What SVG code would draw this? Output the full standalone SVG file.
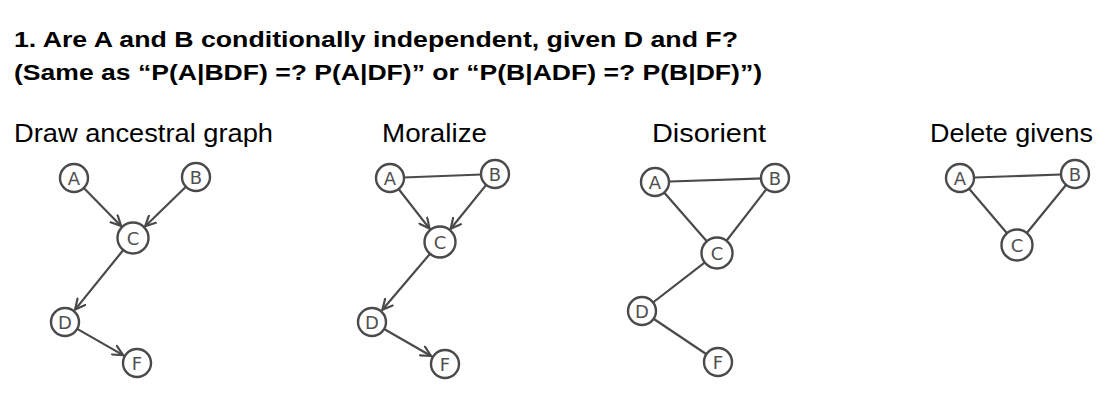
<svg xmlns="http://www.w3.org/2000/svg" width="1112" height="400" viewBox="0 0 1112 400">
<style>
.title{font-family:"Liberation Sans",Arial,sans-serif;font-weight:bold;font-size:22px;fill:#000}
.sub{font-family:"Liberation Sans",Arial,sans-serif;font-size:25px;fill:#000}
.node circle{fill:#fff;stroke:#4a4a4a;stroke-width:2.4}
.node text{font-family:"DejaVu Sans",sans-serif;font-size:18px;fill:#505050;text-anchor:middle;dominant-baseline:central}
.edge{stroke:#4a4a4a;stroke-width:2.2;fill:none;stroke-linecap:round}
.arr{marker-end:url(#ah)}
</style>
<defs>
<marker id="ah" viewBox="0 0 12 12" refX="11" refY="6" markerWidth="12" markerHeight="12" markerUnits="userSpaceOnUse" orient="auto">
<polyline points="1,1 11,6 1,11" fill="none" stroke="#4a4a4a" stroke-width="2.2" stroke-linecap="round" stroke-linejoin="round"/>
</marker>
</defs>
<rect width="1112" height="400" fill="#fff"/>
<text class="title" x="14" y="47" textLength="724" lengthAdjust="spacingAndGlyphs">1. Are A and B conditionally independent, given D and F?</text>
<text class="title" x="14" y="80" textLength="748" lengthAdjust="spacingAndGlyphs">(Same as “P(A|BDF) =? P(A|DF)” or “P(B|ADF) =? P(B|DF)”)</text>
<text class="sub" x="14" y="142" textLength="259" lengthAdjust="spacingAndGlyphs">Draw ancestral graph</text>
<text class="sub" x="382" y="142" textLength="105" lengthAdjust="spacingAndGlyphs">Moralize</text>
<text class="sub" x="652" y="142" textLength="114" lengthAdjust="spacingAndGlyphs">Disorient</text>
<text class="sub" x="930" y="142" textLength="163" lengthAdjust="spacingAndGlyphs">Delete givens</text>
<g id="connectors">
<line class="edge arr" x1="83.8" y1="188" x2="121.1" y2="225.9"/>
<line class="edge arr" x1="185.9" y1="186.7" x2="145.2" y2="226.2"/>
<line class="edge arr" x1="123.3" y1="250" x2="75.1" y2="309.6"/>
<line class="edge arr" x1="77.2" y1="328.9" x2="123.1" y2="355.1"/>
<line class="edge" x1="390" y1="178" x2="495" y2="174"/>
<line class="edge arr" x1="398.6" y1="189" x2="429.5" y2="228.6"/>
<line class="edge arr" x1="486.2" y1="184.9" x2="450.7" y2="228.8"/>
<line class="edge arr" x1="430" y1="253.8" x2="382.4" y2="309.8"/>
<line class="edge arr" x1="384.1" y1="329" x2="431.1" y2="356"/>
<line class="edge" x1="655" y1="182" x2="775" y2="178"/>
<line class="edge" x1="655" y1="182" x2="717" y2="253"/>
<line class="edge" x1="775" y1="178" x2="717" y2="253"/>
<line class="edge" x1="717" y1="253" x2="642" y2="311"/>
<line class="edge" x1="642" y1="311" x2="718" y2="362"/>
<line class="edge" x1="960" y1="178" x2="1075" y2="174"/>
<line class="edge" x1="960" y1="178" x2="1017" y2="245"/>
<line class="edge" x1="1075" y1="174" x2="1017" y2="245"/>
</g>
<g id="g1-A" class="node"><circle cx="74" cy="178" r="14"/><text x="74" y="178">A</text></g>
<g id="g1-B" class="node"><circle cx="196" cy="177" r="14"/><text x="196" y="177">B</text></g>
<g id="g1-C" class="node"><circle cx="133" cy="238" r="15.5"/><text x="133" y="238">C</text></g>
<g id="g1-D" class="node"><circle cx="65" cy="322" r="14"/><text x="65" y="322">D</text></g>
<g id="g1-F" class="node"><circle cx="137" cy="363" r="14"/><text x="137" y="363">F</text></g>
<g id="g2-A" class="node"><circle cx="390" cy="178" r="14"/><text x="390" y="178">A</text></g>
<g id="g2-B" class="node"><circle cx="495" cy="174" r="14"/><text x="495" y="174">B</text></g>
<g id="g2-C" class="node"><circle cx="440" cy="242" r="15.5"/><text x="440" y="242">C</text></g>
<g id="g2-D" class="node"><circle cx="372" cy="322" r="14"/><text x="372" y="322">D</text></g>
<g id="g2-F" class="node"><circle cx="445" cy="364" r="14"/><text x="445" y="364">F</text></g>
<g id="g3-A" class="node"><circle cx="655" cy="182" r="14"/><text x="655" y="182">A</text></g>
<g id="g3-B" class="node"><circle cx="775" cy="178" r="14"/><text x="775" y="178">B</text></g>
<g id="g3-C" class="node"><circle cx="717" cy="253" r="15.5"/><text x="717" y="253">C</text></g>
<g id="g3-D" class="node"><circle cx="642" cy="311" r="14"/><text x="642" y="311">D</text></g>
<g id="g3-F" class="node"><circle cx="718" cy="362" r="14"/><text x="718" y="362">F</text></g>
<g id="g4-A" class="node"><circle cx="960" cy="178" r="14"/><text x="960" y="178">A</text></g>
<g id="g4-B" class="node"><circle cx="1075" cy="174" r="14"/><text x="1075" y="174">B</text></g>
<g id="g4-C" class="node"><circle cx="1017" cy="245" r="15.5"/><text x="1017" y="245">C</text></g>
</svg>
